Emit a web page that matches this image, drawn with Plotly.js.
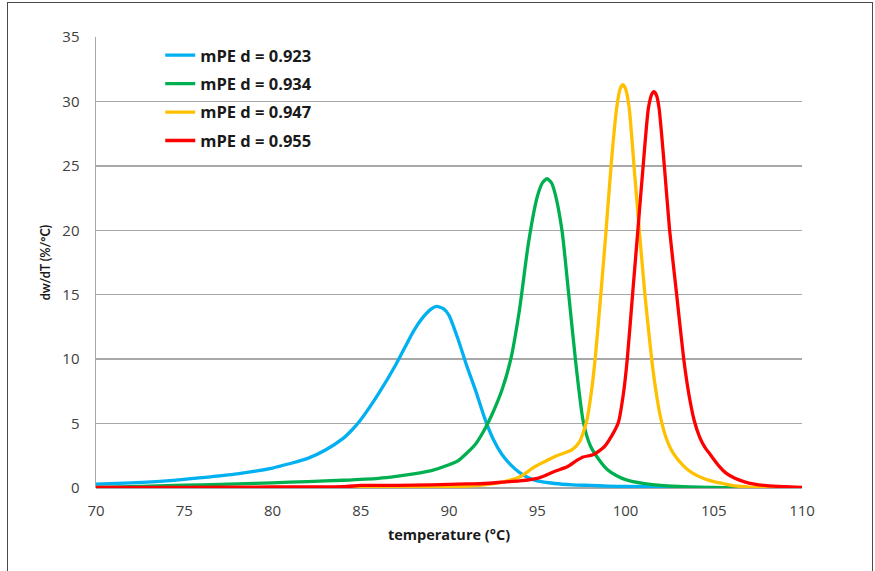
<!DOCTYPE html>
<html>
<head>
<meta charset="utf-8">
<script src="https://cdn.plot.ly/plotly-3.0.1.min.js"></script>
<style>
  html, body { margin: 0; padding: 0; background: #fff; }
  #wrap { position: relative; width: 875px; height: 571px; overflow: hidden; }
  #frame { position: absolute; left: 7px; top: 2px; width: 864px; height: 600px;
           border-left: 1.5px solid #4a4a4a; border-top: 1.5px solid #4a4a4a; border-right: 1.5px solid #4a4a4a; pointer-events: none; }
  #chart { position: absolute; left: 0; top: 0; width: 875px; height: 571px; }
</style>
</head>
<body>
<div id="wrap">
  <div id="chart"></div>
  <div id="frame"></div>
</div>
<script>
// ---- data ----
const names = ["mPE d = 0.923", "mPE d = 0.934", "mPE d = 0.947", "mPE d = 0.955"];
const colors = ["#00B0F0", "#00B050", "#FFC000", "#FF0000"];

const x923 = [70, 72, 74, 76, 78, 80, 81, 82, 83, 84, 84.5, 85, 86, 87, 88, 88.5, 89, 89.3, 89.7, 90, 90.5, 91, 91.5, 92, 92.5, 93, 93.5, 94, 94.5, 95, 96, 97, 98, 99, 100, 102, 104, 106, 110];
const y923 = [0.3, 0.4, 0.55, 0.8, 1.1, 1.55, 1.9, 2.3, 2.95, 3.85, 4.5, 5.3, 7.3, 9.6, 12.2, 13.2, 13.9, 14.1, 13.9, 13.4, 11.6, 9.5, 7.6, 5.5, 3.8, 2.6, 1.8, 1.2, 0.8, 0.55, 0.35, 0.25, 0.2, 0.15, 0.12, 0.08, 0.04, 0.02, 0];

const x934 = [70, 72, 74, 76, 78, 80, 82, 84, 86, 87, 88, 89, 90, 90.5, 91, 91.5, 92, 92.5, 93, 93.5, 94, 94.5, 95, 95.3, 95.55, 95.8, 96, 96.4, 96.8, 97.2, 97.6, 98, 98.5, 99, 99.5, 100, 101, 102, 103, 104, 105, 106, 108, 110];
const y934 = [0.05, 0.1, 0.18, 0.25, 0.32, 0.4, 0.5, 0.6, 0.75, 0.9, 1.1, 1.35, 1.8, 2.1, 2.7, 3.4, 4.5, 5.9, 7.6, 10.0, 13.9, 19.0, 22.6, 23.7, 24.0, 23.7, 22.9, 20.0, 14.8, 9.5, 5.2, 3.3, 2.2, 1.4, 0.95, 0.65, 0.35, 0.2, 0.12, 0.07, 0.04, 0.02, 0.01, 0];

const x947 = [70, 85, 88, 90, 91, 92, 93, 94, 94.8, 95.5, 96, 96.5, 97, 97.4, 97.8, 98.1, 98.3, 98.6, 98.9, 99.2, 99.5, 99.7, 99.85, 100, 100.2, 100.5, 100.8, 101.1, 101.5, 101.75, 102, 102.3, 102.7, 103.3, 103.8, 104.5, 105, 105.5, 106, 106.5, 107, 108, 110];
const y947 = [0, 0.02, 0.05, 0.1, 0.15, 0.25, 0.45, 0.85, 1.6, 2.1, 2.45, 2.7, 3.0, 3.6, 5.2, 7.8, 10.3, 15.0, 20.0, 25.3, 29.5, 31.0, 31.3, 31.0, 29.6, 24.7, 19.7, 15.0, 9.8, 7.3, 5.4, 3.9, 2.7, 1.7, 1.15, 0.7, 0.5, 0.35, 0.2, 0.12, 0.07, 0.03, 0];

const x955 = [70, 75, 80, 84, 85, 86, 88, 90, 91, 92, 93, 94, 95, 95.5, 96, 96.7, 97.2, 97.6, 98.2, 98.8, 99.2, 99.6, 99.9, 100.1, 100.4, 100.7, 101.0, 101.3, 101.5, 101.6, 101.75, 101.9, 102.2, 102.5, 102.9, 103.3, 103.6, 103.9, 104.2, 104.5, 104.8, 105.3, 105.7, 106.2, 106.7, 107.3, 108, 109, 110];
const y955 = [0.05, 0.05, 0.08, 0.1, 0.2, 0.2, 0.22, 0.28, 0.32, 0.35, 0.45, 0.55, 0.75, 1.0, 1.3, 1.65, 2.1, 2.4, 2.6, 3.2, 4.0, 5.1, 7.5, 10.0, 15.0, 20.0, 25.0, 29.5, 30.6, 30.75, 30.5, 29.5, 25.0, 20.0, 15.0, 10.0, 7.2, 5.2, 3.95, 3.15, 2.6, 1.7, 1.15, 0.75, 0.5, 0.3, 0.18, 0.1, 0.05];

const xTickVals = [70, 75, 80, 85, 90, 95, 100, 105, 110];
const yTickVals = [0, 5, 10, 15, 20, 25, 30, 35];
const xTitle = "temperature (°C)";
const yTitle = "dw/dT (%/°C)";

const xs = [x923, x934, x947, x955];
const ys = [y923, y934, y947, y955];

const FONT = "'Open Sans', Lato, 'DejaVu Sans', sans-serif";
const YFONT = "Lato, 'Open Sans', sans-serif";

const traces = names.map((n, i) => ({
  type: "scatter",
  mode: "lines",
  name: n,
  legendgroup: "g" + i,
  x: xs[i],
  y: ys[i],
  line: { color: colors[i], width: 3.3, shape: "spline", smoothing: 0.6 }
}));

const layout = {
  width: 875,
  height: 571,
  margin: { l: 96, r: 73, t: 37, b: 83 },
  paper_bgcolor: "#ffffff",
  plot_bgcolor: "#ffffff",
  font: { family: FONT, color: "#404040", size: 15 },
  showlegend: true,
  legend: {
    x: 0.091, y: 0.998, xanchor: "left", yanchor: "top",
    bgcolor: "rgba(0,0,0,0)",
    font: { family: FONT, size: 16.5, color: "#1a1a1a", weight: "bold" },
    tracegroupgap: 4,
    traceorder: "grouped",
    itemwidth: 30
  },
  xaxis: {
    range: [70, 110],
    tickmode: "array",
    tickvals: xTickVals,
    ticktext: xTickVals.map(String),
    showgrid: false,
    zeroline: false,
    showline: false,
    ticks: "",
    ticklabelstandoff: 12,
    tickfont: { family: FONT, size: 15, color: "#404040" },
    title: { text: xTitle, font: { family: FONT, size: 14.5, color: "#1a1a1a", weight: "bold" }, standoff: 10 }
  },
  yaxis: {
    range: [0, 35],
    tickmode: "array",
    tickvals: yTickVals,
    ticktext: yTickVals.map(String),
    showgrid: true,
    gridcolor: "#A8A8A8",
    gridwidth: 1.5,
    zeroline: true,
    zerolinecolor: "#A8A8A8",
    zerolinewidth: 1.5,
    showline: true,
    linecolor: "#A8A8A8",
    linewidth: 1.5,
    ticks: "",
    ticklabelstandoff: 12,
    tickfont: { family: FONT, size: 15, color: "#404040" },
    title: { text: yTitle, font: { family: YFONT, size: 12.5, color: "#1a1a1a", weight: "bold" }, standoff: 9 }
  }
};

Plotly.newPlot("chart", traces, layout, { staticPlot: true, displayModeBar: false });
</script>
</body>
</html>
